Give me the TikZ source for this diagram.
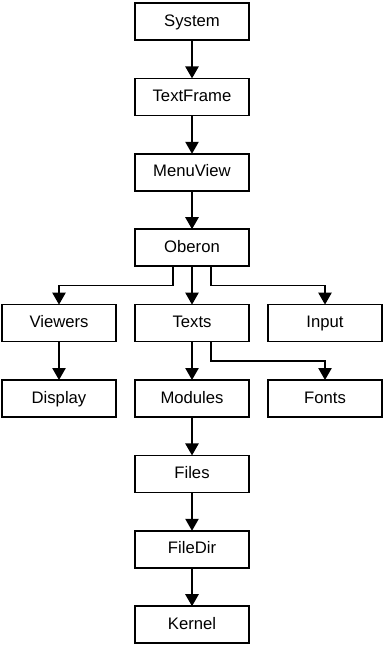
\documentclass[tikz,border=0pt]{standalone}
\usepackage{fontspec}
\setmainfont{Liberation Sans}
\usetikzlibrary{arrows.meta, positioning}

\begin{document}
\begin{tikzpicture}[x=0.75pt,y=-0.75pt,>={Triangle[width=10pt,length=9pt]},node distance=28.8pt and 14.25pt,module/.style={draw, line width=1.1pt, outer sep=0pt, minimum width=85.5pt, minimum height=27.75pt, inner sep=0pt, text height=9.4pt, text depth=2.6pt, font=\fontsize{12.5}{15}\selectfont},uses/.style={->, line width=1.1pt}]
\useasboundingbox (0,0) rectangle (383,649);
\node[module] (system) at (192,21.5) {System};
\node[module, below=of system] (textframe) {TextFrame};
\node[module, below=of textframe] (menuview) {MenuView};
\node[module, below=of menuview] (oberon) {Oberon};
\node[module, below=of oberon] (texts) {Texts};
\node[module, left=of texts] (viewers) {Viewers};
\node[module, right=of texts] (input) {Input};
\node[module, below=of texts] (modules) {Modules};
\node[module, below=of viewers] (display) {Display};
\node[module, below=of input] (fonts) {Fonts};
\node[module, below=of modules] (files) {Files};
\node[module, below=of files] (filedir) {FileDir};
\node[module, below=of filedir] (kernel) {Kernel};
\draw[uses] (system) -- (textframe);
\draw[uses] (textframe) -- (menuview);
\draw[uses] (menuview) -- (oberon);
\draw[uses] (oberon) -- (texts);
\draw[uses] ([xshift=-14.25pt]oberon.south) -- ++(0,-14.4pt) -| (viewers.north);
\draw[uses] ([xshift=14.25pt]oberon.south) -- ++(0,-14.4pt) -| (input.north);
\draw[uses] (viewers) -- (display);
\draw[uses] (texts) -- (modules);
\draw[uses] ([xshift=14.25pt]texts.south) -- ++(0,-14.4pt) -| (fonts.north);
\draw[uses] (modules) -- (files);
\draw[uses] (files) -- (filedir);
\draw[uses] (filedir) -- (kernel);
\end{tikzpicture}
\end{document}
